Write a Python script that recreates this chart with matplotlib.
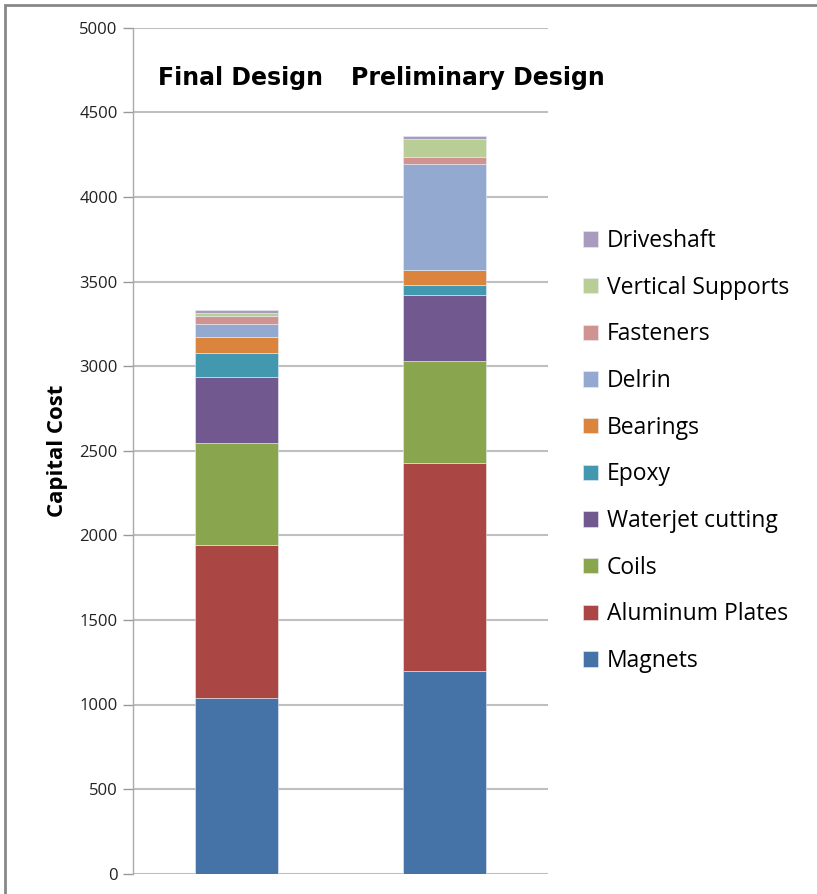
import numpy as np
import matplotlib.pyplot as plt
from matplotlib.patches import Rectangle

plt.rcParams['font.family'] = ['Open Sans', 'DejaVu Sans']

designs = ['Final Design', 'Preliminary Design']
components = ['Magnets', 'Aluminum Plates', 'Coils', 'Waterjet cutting', 'Epoxy',
              'Bearings', 'Delrin', 'Fasteners', 'Vertical Supports', 'Driveshaft']
final_costs = [1040, 900, 605, 390, 140, 95, 78, 47, 20, 15]
prelim_costs = [1200, 1230, 598, 390, 60, 92, 622, 45, 107, 15]
colors = ['#4572A7', '#AA4643', '#89A54E', '#71588F', '#4198AF',
          '#DB843D', '#93A9CF', '#D19392', '#B9CD96', '#A99BBD']
yticks = [0, 500, 1000, 1500, 2000, 2500, 3000, 3500, 4000, 4500, 5000]

fig = plt.figure(figsize=[8.17, 8.94], dpi=100)
ax = fig.add_axes([133 / 817, 1 - 873.7 / 894, 415 / 817, 846 / 894])

x = np.arange(len(designs))
bottom = np.zeros(len(designs))
handles = []
for name, f, p, c in zip(components, final_costs, prelim_costs, colors):
    vals = np.array([f, p])
    h = ax.bar(x, vals, width=0.4, bottom=bottom, color=c, label=name,
               edgecolor='#e8eef5', linewidth=0.4)
    handles.append(h)
    bottom += vals

ax.set_xlim(-0.5, 1.5)
ax.set_ylim(0, 5000)
ax.set_yticks(yticks)
ax.set_xticks([])
ax.tick_params(axis='y', length=7, width=1, color='#999999', labelsize=12,
               labelcolor='#222222', pad=4)
ax.grid(axis='y', color='#bfbfbf', linewidth=1.5)
ax.set_axisbelow(True)
for s in ['top', 'right', 'bottom']:
    ax.spines[s].set_visible(False)
ax.spines['left'].set_color('#aaaaaa')
ax.spines['left'].set_linewidth(1)
ax.set_ylabel('Capital Cost', fontsize=16, fontweight='bold', labelpad=8)

# titles inside the plot area
ax.text(0.02, 4700, 'Final Design', fontsize=17, fontweight='bold', ha='center', va='center',
        family='DejaVu Sans')
ax.text(1.16, 4700, 'Preliminary Design', fontsize=17, fontweight='bold', ha='center', va='center',
        family='DejaVu Sans')

fig.legend(handles[::-1], components[::-1], loc='center left',
           bbox_to_anchor=(562 / 817, 1 - 451 / 894), frameon=False,
           fontsize=16.5, handlelength=0.65, handleheight=0.65, handletextpad=0.4,
           labelspacing=0.99)

fig.patches.append(Rectangle((5 / 817, -0.1), 1.5, 1 - 5 / 894 + 0.1,
                             transform=fig.transFigure, fill=False,
                             edgecolor='#888888', linewidth=2))

fig.savefig('out.png', dpi=100)
plt.close(fig)
